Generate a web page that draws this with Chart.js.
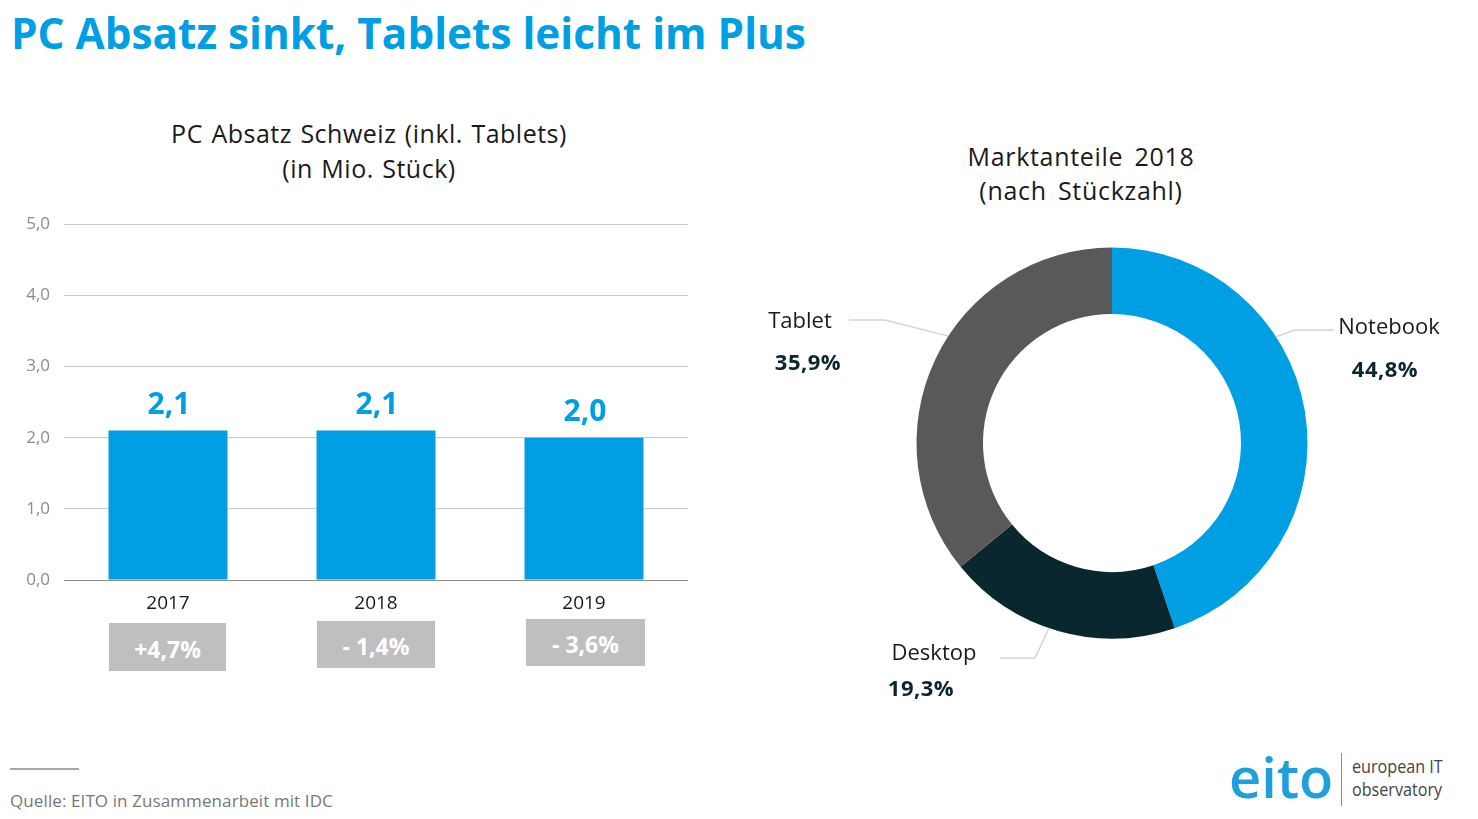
<!DOCTYPE html>
<html lang="de">
<head>
<meta charset="utf-8">
<title>PC Absatz</title>
<script src="https://cdn.jsdelivr.net/npm/chart.js@4"></script>
<style>
  html, body { margin: 0; padding: 0; background: #fff; }
  body { position: relative; width: 1478px; height: 819px; overflow: hidden; font-family: "Open Sans", sans-serif; color: #1a1a1a; }
  canvas { position: absolute; }
  .txt { position: absolute; white-space: nowrap; }
  .center { text-align: center; transform: translateX(-50%); }
  #headline { left: 11px; top: 4px; font-size: 42.3px; font-weight: 700; color: #009fe3; line-height: 58px; }
  .subtitle { font-size: 25px; line-height: 35px; }
  .pill { position: absolute; background: #bfbfbf; color: #fff; font-weight: 700; font-size: 23px; padding-top: 3px; box-sizing: border-box; display: flex; align-items: center; justify-content: center; }
  #rule { position: absolute; left: 10px; top: 768px; width: 69px; height: 2px; background: #a6a6a6; }
  #source { left: 10px; top: 789px; font-size: 17px; line-height: 24px; letter-spacing: 0.1px; color: #777; }
  #logoWord { left: 1229px; top: 738px; font-size: 56px; line-height: 76px; font-weight: 600; color: #1ea0dc; }
  #logoLine { position: absolute; left: 1341px; top: 753px; width: 1px; height: 53px; background: #8a8a8a; }
  #logoText { left: 1352px; top: 755px; font-size: 19px; line-height: 23px; color: #444; transform: scaleX(0.85); transform-origin: left top; }
</style>
</head>
<body>
<div id="headline" class="txt">PC Absatz sinkt, Tablets leicht im Plus</div>
<div class="txt center subtitle" style="left:369px;top:116px;letter-spacing:0.5px;word-spacing:1.5px">PC Absatz Schweiz (inkl. Tablets)<br>(in Mio. Stück)</div>
<div class="txt center subtitle" style="left:1081px;top:139px;line-height:34px;letter-spacing:0.7px;word-spacing:4px">Marktanteile 2018<br>(nach Stückzahl)</div>

<canvas id="barChart" width="720" height="440" style="left:0;top:200px"></canvas>
<canvas id="shareChart" width="732" height="560" style="left:746px;top:162.5px"></canvas>

<div class="pill" style="left:109px;top:623px;width:117px;height:48px">+4,7%</div>
<div class="pill" style="left:317px;top:621px;width:118px;height:47px">- 1,4%</div>
<div class="pill" style="left:526px;top:619px;width:119px;height:47px">- 3,6%</div>

<div id="rule"></div>
<div id="source" class="txt">Quelle: EITO in Zusammenarbeit mit IDC</div>
<div id="logoWord" class="txt">eito</div>
<div id="logoLine"></div>
<div id="logoText" class="txt">european IT<br>observatory</div>

<script>
const years = ['2017', '2018', '2019'];
const salesValues = [2.1, 2.1, 2.0];
const shareLabels = ['Notebook', 'Desktop', 'Tablet'];
const shareValues = [44.8, 19.3, 35.9];
const shareColors = ['#009fe3', '#0a2730', '#595959'];

const deNum = v => v.toFixed(1).replace('.', ',');
const FONT = '"Open Sans", sans-serif';

// value labels above the bars
const barValueLabels = {
    id: 'barValueLabels',
    afterDatasetsDraw(chart) {
        const ctx = chart.ctx;
        ctx.save();
        ctx.font = `700 30px ${FONT}`;
        ctx.fillStyle = '#009fe3';
        ctx.textAlign = 'center';
        ctx.textBaseline = 'middle';
        chart.getDatasetMeta(0).data.forEach((bar, i) => {
            ctx.fillText(deNum(salesValues[i]), bar.x + 1, bar.y - 25);
        });
        ctx.restore();
    }
};

new Chart(document.getElementById('barChart'), {
    type: 'bar',
    data: {
        labels: years,
        datasets: [{
            data: salesValues,
            backgroundColor: '#009fe3',
            barPercentage: 0.572,
            categoryPercentage: 1
        }]
    },
    options: {
        responsive: false,
        animation: false,
        layout: { autoPadding: false, padding: { top: 23, right: 32, left: 0, bottom: 0 } },
        plugins: { legend: { display: false }, tooltip: { enabled: false } },
        scales: {
            y: {
                min: 0,
                max: 5,
                ticks: {
                    stepSize: 1,
                    padding: 14,
                    color: '#8c8c8c',
                    font: { family: FONT, size: 17 },
                    callback: v => deNum(v)
                },
                border: { display: false },
                grid: {
                    drawTicks: false,
                    color: c => c.tick.value === 0 ? '#8a8a8a' : '#c6c6c6'
                },
                afterFit(s) { s.width = 64; }
            },
            x: {
                ticks: { color: '#1a1a1a', padding: 12, font: { family: FONT, size: 19 } },
                grid: { display: false, drawTicks: false },
                border: { display: false },
                afterFit(s) { s.height = 60; }
            }
        }
    },
    plugins: [barValueLabels]
});

// where each leader line leaves its slice (share of the arc), then its elbow and end relative to the centre
const leaderAlong = [0.354, 0.54, 0.56];
const leaderElbow = [[183, -113], [-77, 215], [-227, -123]];
const leaderEnd = [[222, -113], [-112, 215], [-263, -123]];
const nameOffset = [[277, -115], [-178, 211], [-312, -121]];
const percentOffset = [[273, -72], [-191, 247], [-304, -79]];

const shareAnnotations = {
    id: 'shareAnnotations',
    afterDatasetsDraw(chart) {
        const ctx = chart.ctx;
        ctx.save();
        ctx.textAlign = 'center';
        ctx.textBaseline = 'middle';
        chart.getDatasetMeta(0).data.forEach((arc, i) => {
            const a = arc.startAngle + (arc.endAngle - arc.startAngle) * leaderAlong[i];
            ctx.strokeStyle = '#d4d4d4';
            ctx.lineWidth = 1.5;
            ctx.beginPath();
            ctx.moveTo(arc.x + Math.cos(a) * arc.outerRadius, arc.y + Math.sin(a) * arc.outerRadius);
            ctx.lineTo(arc.x + leaderElbow[i][0], arc.y + leaderElbow[i][1]);
            ctx.lineTo(arc.x + leaderEnd[i][0], arc.y + leaderEnd[i][1]);
            ctx.stroke();

            ctx.font = `400 22px ${FONT}`;
            ctx.letterSpacing = '0px';
            ctx.fillStyle = '#1a1a1a';
            ctx.fillText(shareLabels[i], arc.x + nameOffset[i][0], arc.y + nameOffset[i][1]);
            ctx.font = `700 22px ${FONT}`;
            ctx.letterSpacing = '0.5px';
            ctx.fillStyle = '#0a2730';
            ctx.fillText(deNum(shareValues[i]) + '%', arc.x + percentOffset[i][0], arc.y + percentOffset[i][1]);
        });
        ctx.restore();
    }
};

new Chart(document.getElementById('shareChart'), {
    type: 'doughnut',
    data: {
        labels: shareLabels,
        datasets: [{
            data: shareValues,
            backgroundColor: shareColors,
            borderWidth: 0,
            radius: 195.5,
            cutout: '66%'
        }]
    },
    options: {
        responsive: false,
        animation: false,
        plugins: { legend: { display: false }, tooltip: { enabled: false } }
    },
    plugins: [shareAnnotations]
});
</script>
</body>
</html>
